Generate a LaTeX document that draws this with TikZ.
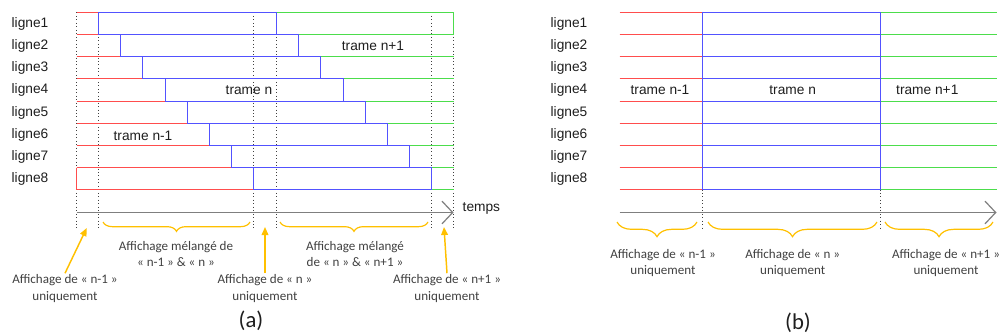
\documentclass[tikz,border=0pt]{standalone}
\usepackage{fontspec}
\setmainfont{Liberation Sans}
\newfontfamily\calib{Carlito}
\usepackage{tikz}
\usetikzlibrary{arrows.meta,decorations.pathreplacing}
\definecolor{rouge}{HTML}{FF4D4D}
\definecolor{bleu}{HTML}{5252FF}
\definecolor{vert}{HTML}{4CDD4C}
\definecolor{ambre}{HTML}{FFC000}
\definecolor{axe}{HTML}{7F7F7F}
\definecolor{encre}{HTML}{1E1E1E}
\definecolor{encregris}{HTML}{404040}

\begin{document}
\begin{tikzpicture}[x=0.75pt,y=-0.75pt,
  ln/.style={line width=1pt},
  tiret/.style={dotted,black!75,line width=0.6pt},
  axis/.style={axe,line width=0.9pt,-{Straight Barb[length=8pt,width=17pt,line width=0.9pt]}},
  acc/.style={ambre,line width=0.9pt,decorate,decoration={brace,mirror,amplitude=#1}},
  acc/.default=7pt,
  fl/.style={ambre,line width=1.1pt,-{Triangle[length=6pt,width=5pt]}},
  lab/.style={font=\fontsize{10.3}{12}\selectfont,encre},
  cmt/.style={font=\calib\fontsize{9.8}{12.4}\selectfont,align=center,encregris,inner sep=1pt}]
  \useasboundingbox (0,0) rectangle (1003,335);

  % (a) lignes decalees
  \foreach \x in {76.5,98.5,253.5,276.5,431.5,453.5}
    \draw[tiret] (\x,12.5) -- (\x,228);
  \foreach \k in {1,...,8}{
    \pgfmathsetmacro\yt{floor(12.3+(\k-1)*22.2)+0.5}
    \pgfmathsetmacro\yb{floor(12.3+\k*22.2)+0.5}
    \pgfmathsetmacro\xs{floor(98.5+(\k-1)*22.2)+0.5}
    \pgfmathsetmacro\xe{\xs+178}
    \node[lab] (la\k) at (30,\yt+11.1) {ligne\k};
    \draw[ln,rouge] (76.5,\yt) -- (\xs,\yt) (76.5,\yb) -- (\xs,\yb);
    \draw[ln,vert] (\xe,\yt) -- (453.5,\yt) (\xe,\yb) -- (453.5,\yb);
  }
  \draw[ln,rouge] (76.5,167.5) -- (76.5,189.5);
  \draw[ln,vert] (453.5,12.5) -- (453.5,34.5);
  \foreach \k in {1,...,8}{
    \pgfmathsetmacro\yt{floor(12.3+(\k-1)*22.2)+0.5}
    \pgfmathsetmacro\yb{floor(12.3+\k*22.2)+0.5}
    \pgfmathsetmacro\xs{floor(98.5+(\k-1)*22.2)+0.5}
    \draw[ln,bleu] (\xs,\yt) rectangle (\xs+178,\yb);
  }
  \node[lab] (ta) at (143,135.7) {trame n-1};
  \node[lab] (tb) at (249,90.1) {trame n};
  \node[lab] (tc) at (373,45.7) {trame n+1};

  \coordinate (a0) at (76.5,212.5);
  \coordinate (a1) at (453.5,212.5);
  \draw[axis] (a0) -- (a1);
  \node[lab,anchor=west] (tps) at (458,208.3) {temps};

  \coordinate (b1l) at (103,222);  \coordinate (b1r) at (250,222);
  \coordinate (b2l) at (280,222);  \coordinate (b2r) at (428,222);
  \draw[acc] (b1l) -- (b1r);
  \draw[acc] (b2l) -- (b2r);
  \node[cmt] (m1) at (176,254) {Affichage mélangé de\\« n-1 » \& « n »};
  \node[cmt] (m2) at (355,254) {Affichage mélangé\\de « n » \& « n+1 »};

  \node[cmt] (u1) at (65,288.7) {Affichage de « n-1 »\\uniquement};
  \node[cmt] (u2) at (265,288.7) {Affichage de « n »\\uniquement};
  \node[cmt] (u3) at (447,288.7) {Affichage de « n+1 »\\uniquement};
  \coordinate (p1) at (86.7,228);
  \coordinate (p2) at (265,227);
  \coordinate (p3) at (444,227);
  \draw[fl] (u1.north) -- (p1);
  \draw[fl] (u2.north) -- (p2);
  \draw[fl] (u3.north) -- (p3);
  \node[font=\calib\fontsize{17}{19}\selectfont,encre,inner sep=0pt] (cap1) at (251,321) {(a)};

  % (b) trames alignees
  \foreach \x in {702.5,880.5}
    \draw[tiret] (\x,189.5) -- (\x,228);
  \foreach \k in {1,...,8}{
    \pgfmathsetmacro\yt{floor(12.3+(\k-1)*22.2)+0.5}
    \pgfmathsetmacro\yb{floor(12.3+\k*22.2)+0.5}
    \node[lab] (lb\k) at (569,\yt+11.1) {ligne\k};
    \draw[ln,rouge] (619.5,\yt) -- (702.5,\yt) (619.5,\yb) -- (702.5,\yb);
    \draw[ln,vert] (880.5,\yt) -- (996.5,\yt) (880.5,\yb) -- (996.5,\yb);
  }
  \foreach \k in {1,...,8}{
    \pgfmathsetmacro\yt{floor(12.3+(\k-1)*22.2)+0.5}
    \draw[ln,bleu] (702.5,\yt) -- (880.5,\yt);
  }
  \draw[ln,bleu] (702.5,12.5) rectangle (880.5,189.5);
  \node[lab] (tpa) at (660,90.1) {trame n-1};
  \node[lab] (tpb) at (792.7,90.1) {trame n};
  \node[lab] (tpc) at (927.3,90.1) {trame n+1};

  \coordinate (c0) at (619.5,212.5);
  \coordinate (c1) at (996.5,212.5);
  \draw[axis] (c0) -- (c1);

  \coordinate (d1l) at (617,222);  \coordinate (d1r) at (697,222);
  \coordinate (d2l) at (708,222);  \coordinate (d2r) at (877,222);
  \coordinate (d3l) at (885,222);  \coordinate (d3r) at (993,222);
  \draw[acc=11pt] (d1l) -- (d1r);
  \draw[acc=11pt] (d2l) -- (d2r);
  \draw[acc=11pt] (d3l) -- (d3r);
  \node[cmt] (v1) at (663,263) {Affichage de « n-1 »\\uniquement};
  \node[cmt] (v2) at (792.7,263) {Affichage de « n »\\uniquement};
  \node[cmt] (v3) at (946,263) {Affichage de « n+1 »\\uniquement};
  \node[font=\calib\fontsize{17}{19}\selectfont,encre,inner sep=0pt] (cap2) at (798,322.5) {(b)};
\end{tikzpicture}
\end{document}
